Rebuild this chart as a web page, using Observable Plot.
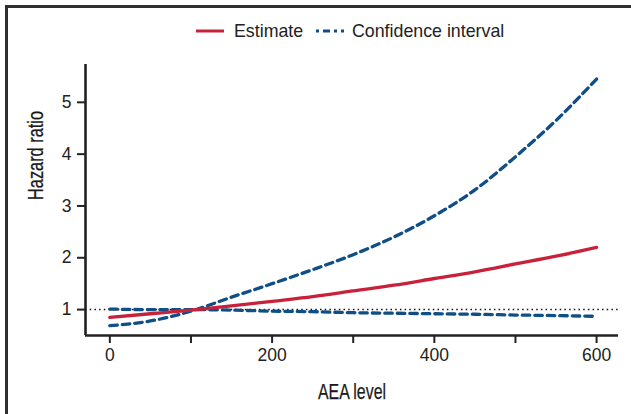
<!DOCTYPE html>
<html>
<head>
<meta charset="utf-8">
<script src="https://cdn.jsdelivr.net/npm/d3@7"></script>
<script src="https://cdn.jsdelivr.net/npm/@observablehq/plot@0.6"></script>
<style>
  html, body { margin: 0; padding: 0; background: #fff; }
  #wrap { position: relative; width: 631px; height: 414px; overflow: hidden; background: #fff; }
  #border { position: absolute; left: 5px; top: 5px; width: 700px; height: 500px;
            border-top: 3px solid #2e2e2e; border-left: 3px solid #2e2e2e; }
  #legend { position: absolute; left: 0; top: 19px; width: 631px; height: 24px;
            font-family: "Liberation Sans", Arial, sans-serif; font-size: 17.8px; color: #222; }
  #legend .item { position: absolute; top: 0; display: flex; align-items: center; height: 24px; }
  #plot { position: absolute; left: 0; top: 0; }
</style>
</head>
<body>
<div id="wrap">
  <div id="border"></div>
  <div id="plot"></div>
  <div id="legend"></div>
</div>
<script>
// ---- data ----
const aeaLevel   = [0, 50, 100, 150, 200, 250, 300, 350, 400, 450, 500, 550, 600];
const estimate   = [0.85, 0.92, 0.99, 1.07, 1.16, 1.25, 1.36, 1.47, 1.60, 1.73, 1.88, 2.03, 2.20];
const ciFlat     = [1.01, 1.00, 1.00, 0.99, 0.97, 0.96, 0.94, 0.93, 0.92, 0.91, 0.895, 0.885, 0.87];
const ciRising   = [0.69, 0.78, 0.97, 1.24, 1.50, 1.77, 2.06, 2.40, 2.81, 3.31, 3.95, 4.65, 5.45];
const xTicks     = [0, 100, 200, 300, 400, 500, 600];
const xTickLabelled = [0, 200, 400, 600];
const yTicks     = [1, 2, 3, 4, 5];
const referenceHR = [1];
const xDomain    = [-30, 627];
const yDomain    = [0.5, 5.73];
const legendItems = ["Estimate", "Confidence interval"];
const xLabel = "AEA level";
const yLabel = "Hazard ratio";

const red = "#c8213a";
const blue = "#0f4f87";
const ink = "#222";

const estRows = aeaLevel.map((x, i) => ({x, y: estimate[i]}));
const flatRows = aeaLevel.map((x, i) => ({x, y: ciFlat[i]}));
const riseRows = aeaLevel.map((x, i) => ({x, y: ciRising[i]}));

const labelFont = "'Liberation Sans', Arial, sans-serif";

const chart = Plot.plot({
  width: 631,
  height: 414,
  marginLeft: 85,
  marginRight: 13,
  marginTop: 64,
  marginBottom: 79,
  style: {fontFamily: "'Liberation Sans', Arial, sans-serif", fontSize: "17.5px", color: ink, background: "transparent", overflow: "visible"},
  x: {domain: xDomain},
  y: {domain: yDomain},
  marks: [
    Plot.ruleY(referenceHR, {stroke: "#111", strokeWidth: 1.5, strokeDasharray: "1.5,3.2"}),
    Plot.line(flatRows, {x: "x", y: "y", stroke: blue, strokeWidth: 3.3, strokeDasharray: "7.5,5", curve: "monotone-x"}),
    Plot.line(riseRows, {x: "x", y: "y", stroke: blue, strokeWidth: 3.3, strokeDasharray: "7.5,5", curve: "monotone-x"}),
    Plot.line(estRows, {x: "x", y: "y", stroke: red, strokeWidth: 3.3, curve: "monotone-x"}),
    Plot.ruleX([xDomain[0]], {stroke: "#222", strokeWidth: 2.6}),
    Plot.ruleY([yDomain[0]], {stroke: "#222", strokeWidth: 2.6}),
    Plot.axisX({ticks: xTicks, tickSize: 8, tickPadding: 5, strokeWidth: 2, stroke: "#222",
      tickFormat: d => xTickLabelled.includes(d) ? String(d) : "", label: null}),
    Plot.axisY({ticks: yTicks, tickSize: 8, tickPadding: 6, strokeWidth: 2, stroke: "#222",
      tickFormat: d => String(d), label: null}),
    Plot.text([xLabel], {frameAnchor: "bottom", dy: 63, fontSize: 22.5,
      fontFamily: labelFont, fill: "#1a1a1a", stroke: "#1a1a1a", strokeWidth: 0.25}),
    Plot.text([yLabel], {frameAnchor: "left", dx: -50, rotate: -90, fontSize: 22.5,
      fontFamily: labelFont, fill: "#1a1a1a", stroke: "#1a1a1a", strokeWidth: 0.25})
  ]
});
document.getElementById("plot").appendChild(chart);

// condense the axis titles (the reference uses a condensed face)
const condensedLength = {[xLabel]: 68, [yLabel]: 89};
d3.select(chart).selectAll("text").each(function() {
  const s = this.textContent;
  if (!(s in condensedLength)) return;
  this.setAttribute("textLength", condensedLength[s]);
  this.setAttribute("lengthAdjust", "spacingAndGlyphs");
});

// legend (HTML above the chart)
const legend = d3.select("#legend");
const item1 = legend.append("div").attr("class", "item").style("left", "195px");
item1.append("svg").attr("width", 30).attr("height", 10).style("margin-right", "9px")
  .append("line").attr("x1", 1).attr("x2", 29).attr("y1", 5).attr("y2", 5)
  .attr("stroke", red).attr("stroke-width", 3);
item1.append("span").text(legendItems[0]);
const item2 = legend.append("div").attr("class", "item").style("left", "315px");
item2.append("svg").attr("width", 30).attr("height", 10).style("margin-right", "7px")
  .append("line").attr("x1", 1).attr("x2", 29).attr("y1", 5).attr("y2", 5)
  .attr("stroke", blue).attr("stroke-width", 3).attr("stroke-dasharray", "3,4,7,4");
item2.append("span").text(legendItems[1]);
</script>
</body>
</html>
